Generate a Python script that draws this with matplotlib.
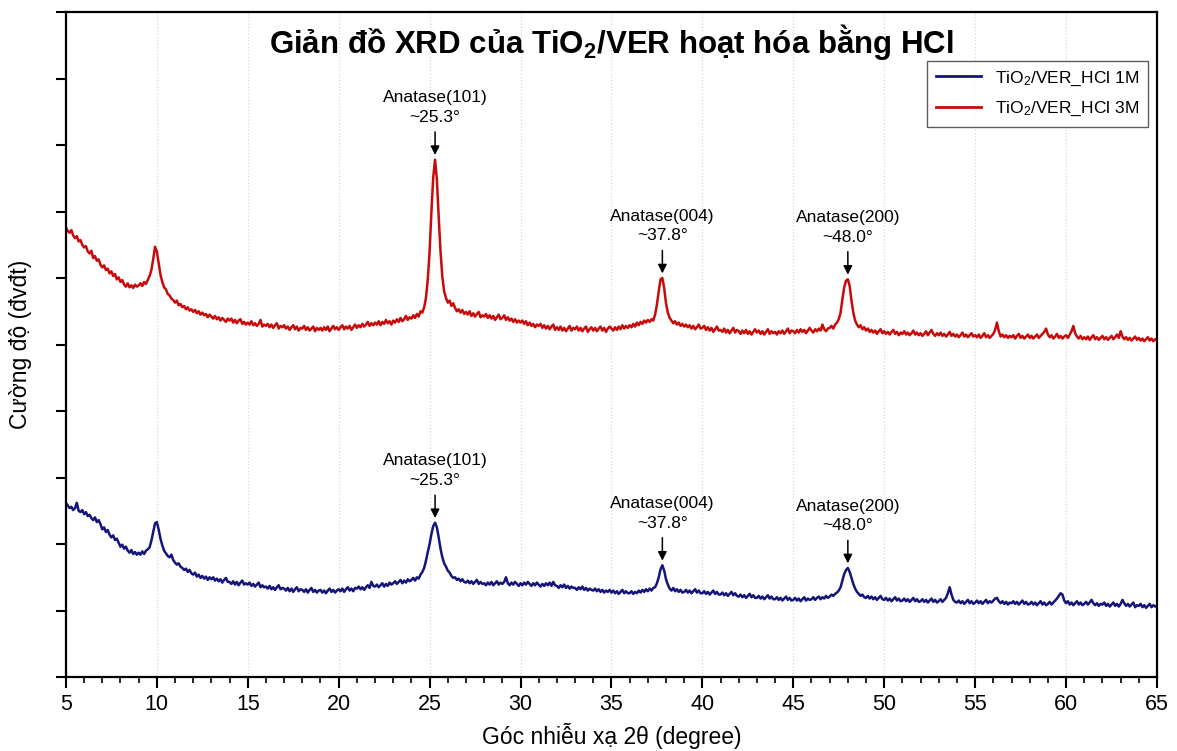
import numpy as np
import matplotlib
matplotlib.use("Agg")
import matplotlib.pyplot as plt
from matplotlib.ticker import MultipleLocator

# --- fonts ---
plt.rcParams['font.family'] = ['Liberation Sans Narrow', 'Liberation Sans', 'DejaVu Sans']
plt.rcParams['mathtext.default'] = 'regular'

# --- measured patterns, 2theta from 5 to 65 deg in 0.1 deg steps (one row per degree) ---
red_3m = [
    676, 671, 668, 672, 664, 660, 663, 655, 657, 650,   # 5
    646, 648, 640, 637, 641, 630, 633, 626, 628, 620,   # 6
    616, 619, 612, 614, 607, 610, 603, 606, 598, 601,   # 7
    594, 597, 590, 587, 592, 586, 589, 585, 590, 587,   # 8
    589, 592, 588, 594, 591, 597, 603, 612, 628, 647,   # 9
    640, 622, 605, 594, 586, 583, 576, 574, 569, 567,   # 10
    563, 566, 559, 561, 556, 558, 553, 556, 551, 553,   # 11
    549, 552, 547, 550, 545, 548, 544, 546, 541, 545,   # 12
    542, 539, 543, 538, 541, 536, 540, 537, 534, 539,   # 13
    536, 539, 533, 537, 532, 536, 538, 531, 534, 530,   # 14
    533, 530, 535, 529, 532, 528, 531, 537, 527, 530,   # 15
    528, 531, 526, 530, 525, 529, 532, 524, 528, 526,   # 16
    529, 524, 527, 522, 526, 529, 523, 527, 521, 525,   # 17
    524, 528, 522, 526, 521, 524, 527, 520, 525, 522,   # 18
    525, 521, 526, 522, 527, 520, 524, 528, 523, 526,   # 19
    522, 526, 529, 523, 527, 524, 528, 522, 526, 530,   # 20
    525, 529, 526, 531, 527, 530, 534, 528, 532, 529,   # 21
    533, 530, 535, 529, 534, 531, 537, 532, 535, 530,   # 22
    536, 533, 538, 534, 540, 535, 538, 543, 537, 541,   # 23
    539, 544, 540, 546, 542, 550, 548, 556, 570, 598,   # 24
    640, 700, 752, 778, 748, 692, 640, 602, 580, 570,   # 25
    563, 566, 558, 562, 555, 550, 553, 548, 552, 546,   # 26
    549, 545, 550, 543, 547, 542, 546, 549, 541, 544,   # 27
    542, 546, 540, 544, 539, 543, 537, 541, 545, 538,   # 28
    540, 544, 537, 541, 536, 539, 534, 538, 533, 536,   # 29
    533, 536, 531, 535, 529, 533, 528, 531, 526, 530,   # 30
    528, 531, 525, 529, 524, 528, 523, 527, 530, 522,   # 31
    526, 522, 527, 521, 525, 520, 524, 528, 521, 525,   # 32
    523, 527, 521, 525, 520, 524, 527, 519, 523, 526,   # 33
    521, 525, 520, 524, 527, 521, 525, 519, 524, 527,   # 34
    524, 521, 526, 522, 527, 523, 529, 524, 528, 525,   # 35
    529, 526, 531, 527, 533, 529, 534, 531, 536, 533,   # 36
    537, 534, 538, 536, 545, 560, 580, 598, 600, 585,   # 37
    562, 548, 540, 536, 532, 535, 530, 533, 528, 531,   # 38
    527, 530, 526, 529, 524, 528, 523, 526, 530, 524,   # 39
    525, 528, 522, 526, 521, 525, 519, 523, 527, 521,   # 40
    522, 519, 524, 518, 522, 517, 521, 525, 518, 522,   # 41
    520, 516, 521, 517, 522, 516, 520, 515, 519, 523,   # 42
    518, 521, 516, 520, 515, 519, 523, 516, 520, 517,   # 43
    519, 515, 520, 517, 521, 516, 520, 524, 517, 521,   # 44
    520, 517, 522, 518, 523, 519, 522, 517, 521, 525,   # 45
    521, 518, 523, 520, 524, 521, 530, 523, 520, 524,   # 46
    525, 528, 524, 530, 533, 538, 548, 568, 586, 596,   # 47
    598, 588, 566, 548, 536, 530, 526, 529, 523, 526,   # 48
    521, 524, 519, 522, 518, 521, 516, 520, 523, 517,   # 49
    520, 516, 519, 515, 519, 522, 516, 519, 514, 518,   # 50
    516, 520, 515, 518, 514, 517, 521, 515, 518, 514,   # 51
    517, 513, 516, 520, 514, 518, 522, 516, 513, 517,   # 52
    514, 518, 513, 516, 512, 515, 519, 513, 516, 512,   # 53
    515, 511, 514, 518, 512, 515, 511, 514, 517, 512,   # 54
    514, 511, 515, 510, 513, 517, 511, 514, 510, 513,   # 55
    516, 522, 533, 520, 512, 515, 511, 514, 510, 513,   # 56
    511, 514, 509, 513, 516, 510, 513, 509, 512, 515,   # 57
    510, 513, 509, 512, 515, 510, 513, 516, 519, 524,   # 58
    515, 511, 514, 509, 512, 516, 510, 513, 509, 512,   # 59
    514, 510, 515, 520, 528, 517, 512, 509, 513, 508,   # 60
    511, 508, 512, 507, 511, 514, 508, 511, 507, 510,   # 61
    513, 508, 511, 507, 510, 513, 508, 511, 515, 510,   # 62
    520, 512, 508, 511, 507, 510, 506, 509, 512, 507,   # 63
    510, 506, 509, 505, 508, 511, 506, 509, 505, 508,   # 64
    507,                                                # 65
]

blue_1m = [
    262, 258, 254, 256, 251, 254, 262, 250, 248, 251,   # 5
    245, 248, 242, 244, 239, 236, 240, 233, 236, 230,   # 6
    222, 225, 218, 221, 214, 210, 213, 206, 208, 202,   # 7
    196, 199, 193, 196, 190, 187, 191, 185, 188, 184,   # 8
    187, 184, 189, 185, 190, 192, 195, 205, 218, 231,   # 9
    233, 222, 208, 198, 190, 186, 182, 180, 184, 176,   # 10
    172, 169, 171, 166, 164, 161, 163, 158, 161, 156,   # 11
    154, 157, 151, 154, 149, 152, 148, 151, 146, 150,   # 12
    147, 150, 145, 148, 144, 147, 142, 146, 149, 143,   # 13
    143, 140, 144, 139, 143, 138, 142, 145, 139, 141,   # 14
    139, 142, 137, 140, 136, 139, 142, 135, 138, 135,   # 15
    136, 133, 137, 132, 135, 131, 135, 138, 132, 134,   # 16
    133, 130, 134, 129, 133, 128, 132, 135, 129, 132,   # 17
    131, 128, 132, 127, 131, 134, 128, 131, 127, 130,   # 18
    131, 127, 130, 126, 130, 133, 128, 131, 127, 130,   # 19
    132, 129, 133, 128, 132, 135, 130, 133, 129, 134,   # 20
    133, 136, 132, 135, 131, 135, 138, 134, 143, 137,   # 21
    136, 139, 135, 138, 141, 136, 140, 137, 142, 139,   # 22
    141, 144, 140, 143, 146, 141, 145, 142, 147, 144,   # 23
    146, 149, 145, 150, 148, 154, 158, 164, 175, 188,   # 24
    200, 215, 227, 232, 225, 210, 193, 180, 171, 166,   # 25
    160, 157, 152, 149, 150, 146, 148, 144, 147, 143,   # 26
    142, 145, 141, 144, 140, 143, 146, 140, 143, 140,   # 27
    141, 138, 142, 139, 143, 138, 141, 144, 139, 142,   # 28
    140, 143, 150, 141, 138, 142, 139, 143, 140, 137,   # 29
    141, 138, 142, 139, 143, 140, 137, 141, 138, 142,   # 30
    139, 136, 140, 137, 141, 138, 142, 137, 143, 138,   # 31
    137, 134, 138, 135, 139, 134, 137, 133, 136, 134,   # 32
    134, 131, 135, 132, 136, 131, 134, 130, 133, 131,   # 33
    130, 133, 129, 132, 128, 131, 127, 130, 128, 131,   # 34
    127, 130, 126, 129, 125, 128, 131, 126, 129, 126,   # 35
    126, 129, 125, 128, 126, 130, 127, 131, 128, 132,   # 36
    129, 133, 130, 134, 135, 141, 150, 162, 168, 160,   # 37
    147, 139, 133, 130, 134, 129, 132, 128, 131, 127,   # 38
    128, 131, 127, 130, 126, 129, 132, 127, 130, 126,   # 39
    126, 129, 125, 128, 124, 127, 130, 125, 128, 124,   # 40
    124, 127, 123, 126, 122, 125, 128, 123, 126, 122,   # 41
    121, 124, 120, 123, 119, 122, 125, 120, 123, 119,   # 42
    119, 122, 118, 121, 117, 120, 123, 118, 121, 117,   # 43
    117, 120, 116, 119, 115, 118, 121, 116, 119, 115,   # 44
    116, 119, 115, 118, 114, 117, 120, 115, 118, 116,   # 45
    117, 120, 116, 119, 121, 117, 120, 118, 122, 119,   # 46
    121, 124, 122, 125, 127, 130, 135, 145, 155, 161,   # 47
    164, 158, 149, 140, 133, 128, 125, 122, 124, 120,   # 48
    119, 122, 118, 121, 117, 120, 116, 119, 122, 117,   # 49
    116, 119, 115, 118, 114, 117, 120, 115, 118, 114,   # 50
    115, 118, 114, 117, 113, 116, 119, 114, 117, 113,   # 51
    114, 117, 113, 116, 112, 115, 118, 113, 116, 112,   # 52
    114, 117, 113, 116, 119, 126, 135, 124, 116, 113,   # 53
    112, 115, 111, 114, 110, 113, 116, 111, 114, 110,   # 54
    112, 115, 111, 114, 110, 113, 116, 111, 114, 112,   # 55
    115, 118, 119, 114, 111, 114, 110, 113, 109, 112,   # 56
    111, 114, 110, 113, 109, 112, 115, 110, 113, 109,   # 57
    110, 113, 109, 112, 108, 111, 114, 109, 112, 108,   # 58
    110, 113, 109, 112, 115, 118, 122, 126, 124, 115,   # 59
    111, 114, 109, 112, 108, 111, 114, 109, 112, 108,   # 60
    110, 113, 109, 112, 116, 111, 108, 111, 107, 110,   # 61
    109, 112, 107, 110, 106, 109, 112, 107, 110, 106,   # 62
    110, 116, 111, 107, 110, 106, 109, 112, 105, 108,   # 63
    107, 110, 105, 108, 104, 107, 110, 105, 108, 106,   # 64
    107,                                                # 65
]

two_theta = np.round(5.0 + 0.1 * np.arange(len(red_3m)), 1)

# anatase reflections marked on both patterns
peak_names = ['Anatase(101)', 'Anatase(004)', 'Anatase(200)']
peak_pos = [25.3, 37.8, 48.0]

series_labels = ['TiO$_2$/VER_HCl 1M', 'TiO$_2$/VER_HCl 3M']
series_colors = ['#14147a', '#c80a0a']

# --- figure ---
fig = plt.figure(figsize=(11.77, 7.51), dpi=100)
ax = fig.add_axes([0.056, 0.0985, 0.927, 0.8855])

ax.plot(two_theta, blue_1m, color=series_colors[0], lw=1.8, label=series_labels[0])
ax.plot(two_theta, red_3m, color=series_colors[1], lw=1.8, label=series_labels[1])

# arrows + labels over each anatase peak
for trace in (red_3m, blue_1m):
    for name, pos in zip(peak_names, peak_pos):
        idx = int(np.argmin(np.abs(two_theta - pos)))
        top = trace[idx]
        ax.annotate(f'{name}\n~{pos:.1f}°', xy=(pos, top + 7), xytext=(pos, top + 52),
                    ha='center', va='bottom', fontsize=12.5, linespacing=1.4,
                    arrowprops=dict(arrowstyle='-|>', color='black', lw=1.1,
                                    mutation_scale=13, shrinkA=3, shrinkB=0))

# axes, ticks, grid
ax.set_xlim(5, 65)
ax.set_ylim(0, 1000)
ax.xaxis.set_major_locator(MultipleLocator(5))
ax.xaxis.set_minor_locator(MultipleLocator(1))
ax.yaxis.set_major_locator(MultipleLocator(100))
ax.set_yticklabels([])
ax.tick_params(axis='x', which='major', direction='out', length=8, width=1.5, labelsize=15.5, pad=4)
ax.tick_params(axis='x', which='minor', direction='out', length=4, width=1.2)
ax.tick_params(axis='y', which='major', direction='out', length=7, width=1.5)
ax.grid(axis='x', which='major', color='#d8d8d8', linestyle=':', lw=0.9)
for side in ax.spines.values():
    side.set_linewidth(1.6)

ax.set_xlabel('Góc nhiễu xạ 2θ (degree)', fontsize=16.5, labelpad=6)
ax.set_ylabel('Cường độ (đvđt)', fontsize=16.5, labelpad=14)

ax.text(0.5, 0.955, 'Giản đồ XRD của TiO$_2$/VER hoạt hóa bằng HCl', transform=ax.transAxes,
        ha='center', va='center', fontsize=22.5, fontweight='bold')

leg = ax.legend(loc='upper right', bbox_to_anchor=(0.9995, 0.94), fontsize=12.5,
                frameon=True, fancybox=False, edgecolor='#333333', handlelength=2.6,
                borderpad=0.5, labelspacing=0.7)
leg.get_frame().set_linewidth(1.0)
for handle in leg.get_lines():
    handle.set_linewidth(2.0)

fig.savefig('out.png', dpi=100, facecolor='white')
